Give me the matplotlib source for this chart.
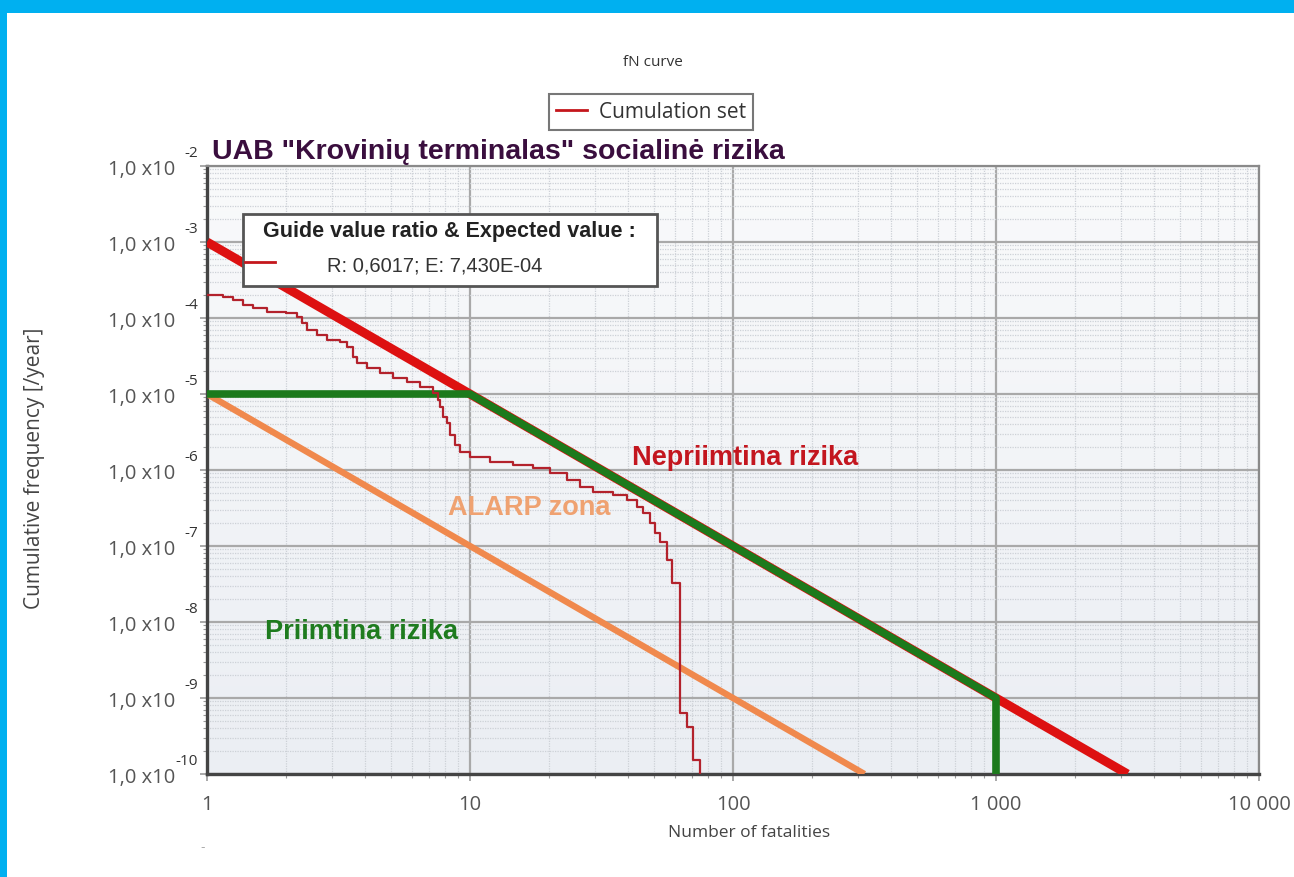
import numpy as np
import matplotlib
matplotlib.use('Agg')
import matplotlib.pyplot as plt
from matplotlib.patches import Rectangle
from matplotlib.lines import Line2D
from matplotlib.ticker import LogLocator, NullFormatter, FixedLocator

# --- data ---
# fN curve of the terminal (step curve)
fn_n = [1.0, 1.15, 1.26, 1.37, 1.5, 1.69, 2.0, 2.2, 2.3, 2.4, 2.62, 2.86, 3.2, 3.41, 3.59,
        3.72, 4.06, 4.55, 5.1, 5.76, 6.45, 7.23, 7.55, 7.7, 7.9, 8.2, 8.4, 8.8, 9.2, 10.0,
        11.9, 14.6, 17.4, 20.2, 23.4, 26.2, 29.4, 35.0, 39.5, 43.2, 45.5, 48.3, 50.5, 52.8,
        56.1, 58.6, 62.8, 66.8, 70.4, 75.0]
fn_f = [2.0e-4, 1.9e-4, 1.73e-4, 1.48e-4, 1.35e-4, 1.2e-4, 1.16e-4, 1.03e-4, 8.6e-5, 6.95e-5,
        6.0e-5, 5.14e-5, 4.83e-5, 4.15e-5, 3.07e-5, 2.56e-5, 2.2e-5, 1.89e-5, 1.62e-5, 1.44e-5,
        1.24e-5, 1.03e-5, 8.3e-6, 6.74e-6, 5.0e-6, 4.15e-6, 2.89e-6, 2.13e-6, 1.73e-6, 1.48e-6,
        1.27e-6, 1.16e-6, 1.06e-6, 9.1e-7, 7.4e-7, 6.0e-7, 5.1e-7, 4.7e-7, 4.03e-7, 3.26e-7,
        2.72e-7, 2.01e-7, 1.48e-7, 1.13e-7, 6.5e-8, 3.26e-8, 6.4e-10, 4.15e-10, 1.53e-10, 1.0e-10]

# guide lines
red_n = [1, 3162]
red_f = [1e-3, 1e-10]
green_n = [1, 10, 1000, 1000]
green_f = [1e-5, 1e-5, 1e-9, 1e-10]
orange_n = [1, 316]
orange_f = [1e-5, 1e-10]

x_ticks = [1, 10, 100, 1000, 10000]
x_tick_labels = ['1', '10', '100', '1 000', '10 000']
y_exps = [-2, -3, -4, -5, -6, -7, -8, -9, -10]

W, H = 1294, 877
fig = plt.figure(figsize=(W / 100, H / 100), dpi=100)
fig.patch.set_facecolor('white')

# blue frame of the screenshot
fig.add_artist(Rectangle((0, 1 - 13 / H), 1, 13 / H, transform=fig.transFigure,
                         facecolor='#00B0F0', edgecolor='none'))
fig.add_artist(Rectangle((0, 0), 7 / W, 1, transform=fig.transFigure,
                         facecolor='#00B0F0', edgecolor='none'))

ax = fig.add_axes([207 / W, 1 - 774 / H, (1259 - 207) / W, (774 - 166) / H])
ax.set_xscale('log')
ax.set_yscale('log')
ax.set_xlim(1, 10000)
ax.set_ylim(1e-10, 1e-2)

# light gradient background
grad = np.linspace(0, 1, 256).reshape(-1, 1)
ax.imshow(grad, extent=[0, 1, 0, 1], transform=ax.transAxes, aspect='auto',
          cmap=matplotlib.colors.LinearSegmentedColormap.from_list('bg', ['#EBEEF3', '#F9FAFB']),
          origin='lower', zorder=0)

# grid
ax.xaxis.set_major_locator(FixedLocator(x_ticks))
ax.xaxis.set_minor_locator(LogLocator(base=10, subs=np.arange(2, 10)))
ax.yaxis.set_major_locator(FixedLocator([10.0 ** e for e in y_exps]))
ax.yaxis.set_minor_locator(LogLocator(base=10, subs=np.arange(2, 10), numticks=20))
ax.xaxis.set_minor_formatter(NullFormatter())
ax.yaxis.set_minor_formatter(NullFormatter())
ax.grid(True, which='major', color='#A9A9A9', linewidth=1.6, zorder=1)
ax.grid(True, which='minor', color='#CDD1D7', linewidth=0.9, linestyle=(0, (1, 1)), zorder=1)
ax.set_axisbelow(True)

ax.set_xticklabels(x_tick_labels, fontfamily='Open Sans', fontsize=14.5, color='#555555')
ax.set_yticklabels([])
ax.tick_params(which='both', direction='out', color='#9A9A9A')
ax.tick_params(which='major', length=5, width=1.2)
ax.tick_params(which='minor', length=3, width=0.8)
ax.tick_params(axis='x', which='major', pad=10)

for side in ['left', 'bottom']:
    ax.spines[side].set_color('#444444')
    ax.spines[side].set_linewidth(2.4)
for side in ['top', 'right']:
    ax.spines[side].set_color('#8A8A8A')
    ax.spines[side].set_linewidth(1.6)

# y tick labels "1,0 x10^e"
ytr = ax.get_yaxis_transform()
for e in y_exps:
    ax.annotate('1,0 x10', xy=(0, 10.0 ** e), xycoords=ytr, xytext=(-23, -3),
                textcoords='offset points', ha='right', va='center',
                fontfamily='Open Sans', fontsize=14.5, color='#555555', annotation_clip=False)
    ax.annotate(str(e), xy=(0, 10.0 ** e), xycoords=ytr, xytext=(-6.5, 9),
                textcoords='offset points', ha='right', va='center',
                fontfamily='Open Sans', fontsize=11, color='#333333', annotation_clip=False)

# curves
ax.plot(orange_n, orange_f, color='#F0894D', linewidth=4.6, solid_capstyle='butt', zorder=3)
ax.plot(red_n, red_f, color='#DD1111', linewidth=6.5, solid_capstyle='butt', zorder=4)
ax.plot(green_n, green_f, color='#1C7A1C', linewidth=5.5, solid_capstyle='butt', zorder=5)
curve, = ax.plot(fn_n, fn_f, drawstyle='steps-post', color='#B3222C', linewidth=1.6, zorder=6)

# zone labels
zone_font = dict(fontsize=19.5, fontweight='bold', fontfamily='Liberation Sans',
                 va='center', ha='left', zorder=7)
ax.text(10 ** ((632 - 207) / 263), 10 ** (-2 - (458 - 166) / 76), 'Nepriimtina rizika',
        color='#C3161F', **zone_font)
ax.text(10 ** ((448 - 207) / 263), 10 ** (-2 - (508 - 166) / 76), 'ALARP zona',
        color='#EFA271', **zone_font)
ax.text(10 ** ((265 - 207) / 263), 10 ** (-2 - (632 - 166) / 76), 'Priimtina rizika',
        color='#1E7B1E', **zone_font)

# title inside chart area
fig.text(212 / W, 1 - 152 / H, 'UAB "Krovinių terminalas" socialinė rizika',
         color='#3A0E3E', fontsize=20.5, fontweight='bold', fontfamily='Liberation Sans',
         ha='left', va='center')

fig.text(653 / W, 1 - 63 / H, 'fN curve', fontsize=11, fontfamily='Open Sans',
         color='#333333', ha='center', va='center')

# legend
leg = fig.legend(handles=[Line2D([], [], color='#C4161C', linewidth=2)], labels=['Cumulation set'],
                 loc='center', bbox_to_anchor=(651 / W, 1 - 112 / H), frameon=True,
                 fancybox=False, prop={'family': 'Open Sans', 'size': 15}, handlelength=1.5,
                 borderpad=0.35, handletextpad=0.55)
leg.get_frame().set_edgecolor('#555555')
leg.get_frame().set_linewidth(1.5)
for t in leg.get_texts():
    t.set_color('#333333')

# guide value box
fig.add_artist(Rectangle((243 / W, 1 - 286 / H), (657 - 243) / W, (286 - 214) / H,
                         transform=fig.transFigure, facecolor='white', edgecolor='#555555',
                         linewidth=2, zorder=10))
fig.add_artist(Line2D([245 / W, 275 / W], [1 - 262 / H, 1 - 262 / H], transform=fig.transFigure,
                      color='#C4161C', linewidth=2, zorder=11))
fig.text(449 / W, 1 - 231 / H, 'Guide value ratio & Expected value :', fontsize=15.5,
         fontweight='bold', fontfamily='Liberation Sans', color='#222222',
         ha='center', va='center', zorder=11)
fig.text(435 / W, 1 - 266 / H, 'R: 0,6017; E: 7,430E-04', fontsize=14.5,
         fontfamily='Liberation Sans', color='#333333', ha='center', va='center', zorder=11)

# axis titles
fig.text(749 / W, 1 - 833 / H, 'Number of fatalities', fontsize=12.5, fontfamily='Open Sans',
         color='#444444', ha='center', va='center')
fig.text(35 / W, 1 - 468 / H, 'Cumulative frequency [/year]', fontsize=15, fontfamily='Open Sans',
         color='#444444', ha='center', va='center', rotation=90)
fig.text(203 / W, 1 - 848 / H, '-', fontsize=9, color='#AAAAAA', ha='center', va='center')

fig.savefig('out.png', dpi=100)
